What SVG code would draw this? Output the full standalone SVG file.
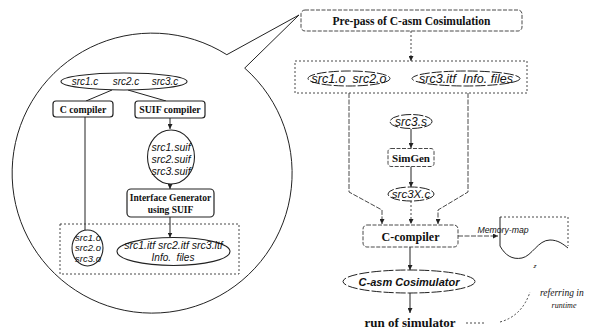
<svg xmlns="http://www.w3.org/2000/svg" width="589" height="331" viewBox="0 0 589 331">
<defs>
<marker id="arr" viewBox="0 0 6 6" refX="6" refY="3" markerUnits="userSpaceOnUse" markerWidth="5" markerHeight="5" orient="auto"><path d="M0,0 L6,3 L0,6 z" fill="#222"/></marker>
<style>
.ln{fill:none;stroke:#222;stroke-width:1}
.dash{fill:none;stroke:#333;stroke-width:0.9;stroke-dasharray:2 2}
.ldash{fill:none;stroke:#333;stroke-width:0.9;stroke-dasharray:5 1.5}
.box{fill:#fff;stroke:#222;stroke-width:1.2}
.dbox{fill:#fff;stroke:#333;stroke-width:0.9;stroke-dasharray:4 1.5}
.ell{fill:#fff;stroke:#222;stroke-width:1.1}
.dell{fill:#fff;stroke:#222;stroke-width:1;stroke-dasharray:10 2}
.bs{font-family:"Liberation Serif","Times New Roman",serif;font-weight:bold;fill:#111;text-anchor:middle}
.is{font-family:"Liberation Sans",Arial,sans-serif;font-style:italic;fill:#111;text-anchor:middle}
.it{font-family:"Liberation Serif","Times New Roman",serif;font-style:italic;fill:#111}
</style>
</defs>
<rect width="589" height="331" fill="#fff"/>
<g id="bubble"><path class="ln" stroke-width="1.2" d="M226.8,54.7 L299,15 L244.7,68.1 A140 140 0 1 1 226.8,54.7"/></g>
<g id="connectors">
<path class="ln" d="M112,90 L86,101"/>
<path class="ln" d="M128,90 L166,101"/>
<path class="ln" d="M85,117 V230"/>
<path class="ln" d="M170,118 V129" marker-end="url(#arr)"/>
<path class="ln" d="M170,184 V189" marker-end="url(#arr)"/>
<path class="ln" d="M170,217 V237.5" marker-end="url(#arr)"/>
<path class="dash" d="M411,31 V61" marker-end="url(#arr)"/>
<path class="ldash" d="M349,93 V192 L382,210 V224" marker-end="url(#arr)"/>
<path class="ldash" d="M468,93 V192 L438,210 V224" marker-end="url(#arr)"/>
<path class="ln" d="M411,129 V148" marker-end="url(#arr)"/>
<path class="ln" d="M411,166.5 V187" marker-end="url(#arr)"/>
<path class="dash" d="M411,201 V224" marker-end="url(#arr)"/>
<path class="ldash" d="M458,236 H498" marker-end="url(#arr)"/>
<path class="ln" d="M410,247 V270" marker-end="url(#arr)"/>
<path class="ln" d="M410,293 V313" marker-end="url(#arr)"/>
<path class="dash" d="M466,323 H484"/>
<path class="dash" d="M500,322 Q522,316 530,292"/>
</g>
<g id="srcc"><ellipse class="ell" cx="124" cy="81.5" rx="63" ry="8.5"/>
<text class="is" font-size="10" x="85" y="85">src1.c</text><text class="is" font-size="10" x="126" y="85">src2.c</text><text class="is" font-size="10" x="165" y="85">src3.c</text></g>
<g id="ccomp"><rect class="box" x="53" y="101" width="60" height="16" rx="3"/><text class="bs" font-size="9.8" x="83" y="112.5">C compiler</text></g>
<g id="suifcomp"><rect class="box" x="135" y="101" width="70" height="17" rx="3"/><text class="bs" font-size="9.8" x="170" y="113">SUIF compiler</text></g>
<g id="suiffiles"><ellipse class="ell" cx="171" cy="157" rx="23.5" ry="27"/>
<text class="is" font-size="10.5" x="171" y="150.5">src1.suif</text><text class="is" font-size="10.5" x="171" y="162.5">src2.suif</text><text class="is" font-size="10.5" x="171" y="174.5">src3.suif</text></g>
<g id="ifgen"><rect class="box" x="127" y="189" width="87" height="28" rx="4"/><text class="bs" font-size="9.5" x="170.5" y="201">Interface Generator</text><text class="bs" font-size="9.5" x="170.5" y="213">using SUIF</text></g>
<g id="leftout"><rect class="dash" x="60" y="224" width="179" height="50"/>
<ellipse class="ell" cx="87.5" cy="248" rx="15.5" ry="18"/>
<text class="is" font-size="9.5" x="88" y="240.5">src1.o</text><text class="is" font-size="9.5" x="88" y="251">src2.o</text><text class="is" font-size="9.5" x="88" y="261.5">src3.o</text>
<ellipse class="ell" cx="173.5" cy="251.5" rx="56.5" ry="14"/>
<text class="is" font-size="10.5" x="173.5" y="248.5">src1.itf src2.itf src3.itf</text><text class="is" font-size="10" x="173" y="260.5" xml:space="preserve">Info.  files</text></g>
<g id="prepass"><rect class="dbox" x="301" y="10" width="221" height="21" rx="4"/><text class="bs" font-size="11.5" x="411.5" y="24.5">Pre-pass of C-asm Cosimulation</text></g>
<g id="inputs"><rect class="dash" x="295" y="61" width="232" height="32"/>
<ellipse class="dell" cx="349" cy="78.5" rx="41" ry="7.5"/><text class="is" font-size="12.5" x="349" y="83" xml:space="preserve">src1.o  src2.o</text>
<ellipse class="dell" cx="466" cy="78.5" rx="54" ry="7.5"/><text class="is" font-size="12.5" x="466" y="83" xml:space="preserve">src3.itf  Info. files</text></g>
<g id="src3s"><ellipse class="dell" cx="411" cy="121.5" rx="21" ry="7"/><text class="is" font-size="12" x="411" y="125.5">src3.s</text></g>
<g id="simgen"><rect class="dbox" x="388" y="148.5" width="46" height="18" rx="3"/><text class="bs" font-size="11" x="411" y="161.5">SimGen</text></g>
<g id="src3xc"><ellipse class="dell" cx="411" cy="194" rx="23" ry="7"/><text class="is" font-size="11.5" x="411" y="198">src3X.c</text></g>
<g id="ccompiler"><rect class="dbox" x="363" y="225" width="95" height="22" rx="4"/><text class="bs" font-size="12" x="410.5" y="240.5">C-compiler</text></g>
<g id="memmap"><path class="dash" d="M500,217 H568 V246"/><path class="ln" d="M500,217 V246 C505,255 512,260 522,258 C532,256 538,240 550,240 C558,240 563,244 568,248"/>
<text class="is" font-size="8.7" x="503" y="233" text-anchor="start">Memory-map</text><text class="is" font-size="6" x="535" y="268">z</text></g>
<g id="cosim"><ellipse class="dell" cx="409" cy="281.5" rx="66" ry="11.5"/><text class="is" font-size="11" font-weight="bold" x="409" y="285.5">C-asm Cosimulator</text></g>
<g id="run"><text class="bs" font-size="13" x="410" y="327">run of simulator</text></g>
<g id="note"><text class="it" font-size="9.5" x="540" y="296">referring in</text><text class="it" font-size="8" x="564" y="308" text-anchor="middle">runtime</text></g>
</svg>
